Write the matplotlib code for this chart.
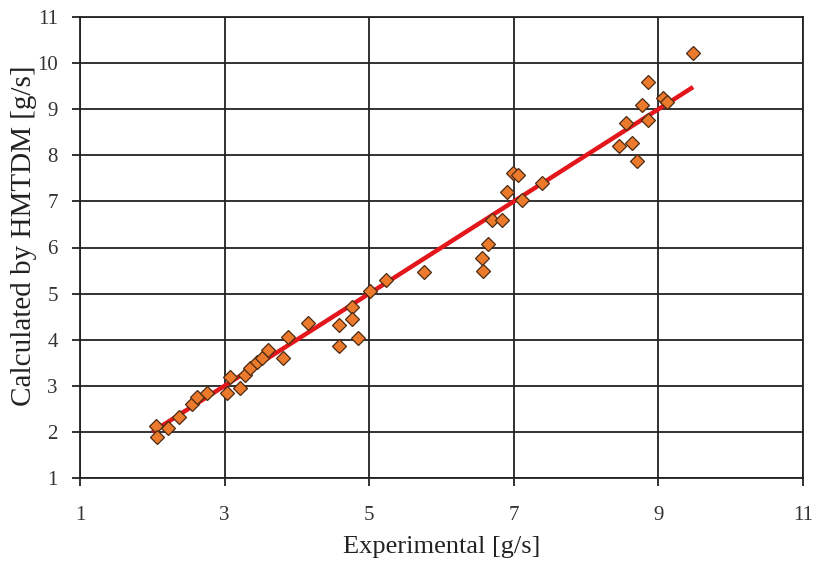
import matplotlib
matplotlib.use("Agg")
import matplotlib.pyplot as plt

# Measured mass flow vs. values calculated by HMTDM [g/s]
experimental = [2.05, 2.07, 2.22, 2.37, 2.55, 2.62, 2.76, 3.03, 3.07, 3.21,
                3.28, 3.35, 3.45, 3.52, 3.60, 3.81, 3.88, 4.15, 4.58, 4.58,
                4.76, 4.76, 4.85, 5.01, 5.23, 5.76, 6.57, 6.56, 6.64, 6.70,
                6.84, 6.91, 6.99, 7.06, 7.11, 7.39, 8.45, 8.63, 8.70, 8.55,
                8.86, 8.77, 8.86, 9.06, 9.12, 9.48]
calculated = [2.13, 1.89, 2.08, 2.32, 2.61, 2.76, 2.84, 2.84, 3.19, 2.95,
              3.23, 3.39, 3.52, 3.60, 3.78, 3.60, 4.06, 4.36, 4.32, 3.86,
              4.71, 4.45, 4.04, 5.06, 5.30, 5.47, 5.49, 5.77, 6.08, 6.60,
              6.60, 7.20, 7.62, 7.57, 7.03, 7.40, 8.20, 8.27, 7.88, 8.70,
              8.77, 9.09, 9.59, 9.24, 9.16, 10.22]

# Linear trend line endpoints
trend_x = [2.0, 9.48]
trend_y = [2.0, 9.48]

x_ticks = [1, 3, 5, 7, 9, 11]
y_ticks = [1, 2, 3, 4, 5, 6, 7, 8, 9, 10, 11]

plt.rcParams['font.family'] = ['Liberation Serif', 'DejaVu Serif']

fig = plt.figure(figsize=(8.15, 5.64), dpi=100)
ax = fig.add_axes([80 / 815, 1 - 478 / 564, (803 - 80) / 815, (478 - 17) / 564])

ax.set_xlim(1, 11)
ax.set_ylim(1, 11)
ax.set_xticks(x_ticks)
ax.set_yticks(y_ticks)

ax.grid(True, color='#222222', linewidth=1.3, zorder=0)
ax.set_axisbelow(True)
for s in ax.spines.values():
    s.set_color('#222222')
    s.set_linewidth(1.3)

ax.plot(trend_x, trend_y, color='#e3161b', linewidth=3.2, zorder=2,
        solid_capstyle='butt')
ax.plot(experimental, calculated, linestyle='none', marker='D', markersize=7.2,
        markerfacecolor='#ec7a2c', markeredgecolor='#4a2a12',
        markeredgewidth=0.9, zorder=3)

ax.tick_params(axis='both', direction='out', length=6, width=1.3,
               color='#222222', labelsize=15, labelcolor='#333333', pad=10)
ax.tick_params(axis='x', pad=14)

ax.set_xlabel('Experimental [g/s]', fontsize=19, color='#222222', labelpad=8)
ax.set_ylabel('Calculated by HMTDM [g/s]', fontsize=21, color='#222222')
ax.yaxis.set_label_coords(-0.06, 0.525)

fig.savefig('out.png', dpi=100, facecolor='white')
